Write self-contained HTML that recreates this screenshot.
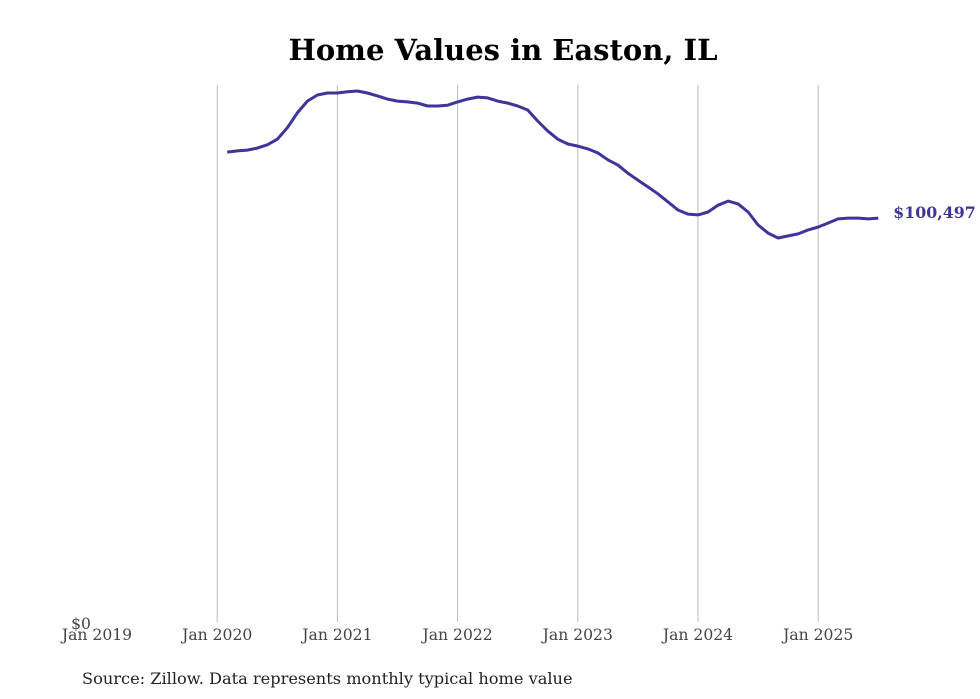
<!DOCTYPE html>
<html><head><meta charset="utf-8"><style>
body{margin:0;background:#fff;width:980px;height:699px;overflow:hidden}
svg{display:block;font-family:"DejaVu Serif","Liberation Serif",serif}
</style></head><body>
<svg id="chart" width="980" height="699">
<text x="503" y="60" text-anchor="middle" font-size="29" font-weight="bold" fill="#000">Home Values in Easton, IL</text>
<g id="grid"></g>
<g id="xticks"></g>
<text x="81" y="629" text-anchor="middle" font-size="15.6" fill="#444">$0</text>
<path id="line" fill="none" stroke="#3d3599" stroke-width="3" stroke-linejoin="round"></path>
<text id="endlabel" font-size="15.8" font-weight="bold" fill="#3d3599"></text>
<text x="82" y="684" font-size="16.2" fill="#222">Source: Zillow. Data represents monthly typical home value</text>
</svg>
<script>
const tickLabels=["Jan 2019","Jan 2020","Jan 2021","Jan 2022","Jan 2023","Jan 2024","Jan 2025"];
const startMonth=13; // months since Jan 2019 (Feb 2020)
const values=[116800,117100,117300,117800,118600,120000,122800,126500,129400,130900,131400,131400,131700,131900,131400,130700,129900,129400,129200,128900,128200,128200,128400,129200,129900,130400,130200,129400,128900,128200,127200,124500,122000,120000,118800,118300,117600,116600,114900,113600,111600,109900,108200,106500,104500,102500,101500,101300,102000,103700,104700,104000,102000,98800,96800,95600,96100,96600,97600,98300,99300,100300,100500,100500,100300,100497];
const x=m=>97+m*120.2/12;
const y=v=>625-v/247;
const ns="http://www.w3.org/2000/svg";
const grid=document.getElementById('grid'),xt=document.getElementById('xticks');
tickLabels.forEach((t,i)=>{
  const xx=x(i*12);
  if(i>0){const l=document.createElementNS(ns,'line');
  l.setAttribute('x1',xx);l.setAttribute('x2',xx);l.setAttribute('y1',85);l.setAttribute('y2',622);
  l.setAttribute('stroke','#bbb');l.setAttribute('stroke-width','1');
  
  
  grid.appendChild(l);}
  const tx=document.createElementNS(ns,'text');
  tx.setAttribute('x',xx);tx.setAttribute('y',640);tx.setAttribute('text-anchor','middle');
  tx.setAttribute('font-size','15.6');tx.setAttribute('fill','#444');tx.textContent=t;
  
  
  xt.appendChild(tx);
});
let d='';
values.forEach((v,i)=>{d+=(i?'L':'M')+x(startMonth+i).toFixed(1)+','+y(v).toFixed(1);});
document.getElementById('line').setAttribute('d',d);
const last=values[values.length-1],el=document.getElementById('endlabel');
el.setAttribute('x',x(startMonth+values.length-1)+15);
el.setAttribute('y',y(last)+0);
el.textContent='$'+last.toLocaleString('en-US');
</script>
</body></html>
